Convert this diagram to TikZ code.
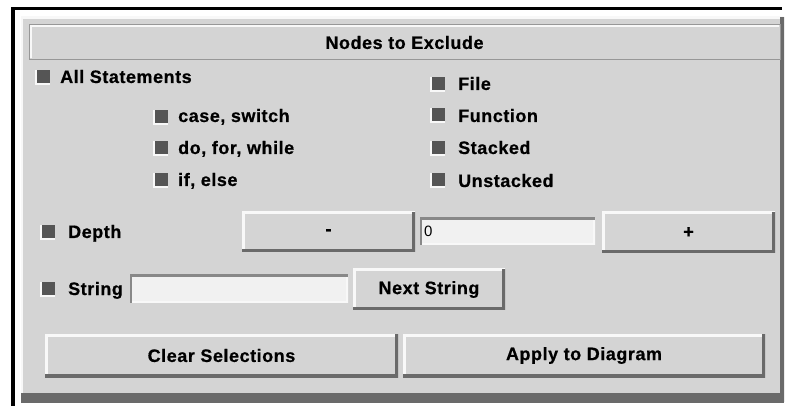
\documentclass[tikz,border=0pt]{standalone}
\usepackage{fontspec}
\setmainfont{Liberation Sans}[LetterSpace=3, BoldFeatures={FakeBold=0.6}]
\definecolor{panel}{HTML}{D4D4D4}
\definecolor{shade}{HTML}{6A6A6A}
\definecolor{lite}{HTML}{F8F8F8}
\definecolor{field}{HTML}{F1F1F1}
\definecolor{tick}{HTML}{555555}
\begin{document}
\begin{tikzpicture}[x=1pt,y=-1pt,
  ui/.style={font=\fontsize{18}{20}\selectfont\bfseries, text=black},
  box/.style={inner sep=0pt, outer sep=0pt, anchor=north west},
  edge/.style={fill=none, draw=#1},
  raised/.style={box, fill=panel, ui,
    path picture={
      \draw[edge=lite, line width=5pt] (path picture bounding box.south west) -- (path picture bounding box.north west) -- (path picture bounding box.north east);
      \draw[edge=shade, line width=6pt] (path picture bounding box.north east) -- (path picture bounding box.south east) -- (path picture bounding box.south west);
    }},
  sunken/.style={box, fill=field,
    path picture={
      \draw[edge=lite, line width=4pt] (path picture bounding box.north east) -- (path picture bounding box.south east) -- (path picture bounding box.south west);
      \draw[edge=shade!80, line width=4pt] (path picture bounding box.south west) -- (path picture bounding box.north west) -- (path picture bounding box.north east);
    }},
  toggle/.style={box, fill=tick, minimum size=15pt,
    path picture={
      \draw[edge=lite, line width=3pt] (path picture bounding box.north west) -- (path picture bounding box.south west) -- (path picture bounding box.south east);
    }},
  label/.style={ui, anchor=base west, inner sep=0pt}
]
\useasboundingbox (0,0) rectangle (785,406);

% outer frame
\draw[line width=3.5pt] (13,406) -- (13,8.7) -- (781.5,8.7);

% main panel with raised bevel
\node[box, fill=panel, minimum width=763pt, minimum height=385pt,
  path picture={
    \draw[edge=lite, line width=4pt] (path picture bounding box.south west) -- (path picture bounding box.north west) -- (path picture bounding box.north east);
    \draw[edge=shade, line width=9pt] (path picture bounding box.north east) -- (path picture bounding box.south east);
    \draw[edge=shade, line width=18pt] (path picture bounding box.south east) -- (path picture bounding box.south west);
  }] (panel) at (21,17) {};

% title bar
\node[box, fill=panel, draw=shade!70, line width=1pt, minimum width=751pt, minimum height=35pt,
  path picture={
    \draw[edge=lite, line width=2pt] ([xshift=1.5pt,yshift=1.5pt]path picture bounding box.south west) -- ([xshift=1.5pt,yshift=-1.5pt]path picture bounding box.north west) -- ([xshift=-1.5pt,yshift=-1.5pt]path picture bounding box.north east);
  }] (title) at (29,25) {};
\node[ui] (titletext) at (title.center) {Nodes to Exclude};

% statement toggles
\node[toggle] (tall) at (35,70) {};
\node[label] (lall) at (60,83) {All Statements};
\node[toggle] (tcase) at (153,110) {};
\node[label] (lcase) at (178,122) {case, switch};
\node[toggle] (tdo) at (153,141) {};
\node[label] (ldo) at (178,154) {do, for, while};
\node[toggle] (tif) at (153,173) {};
\node[label] (lif) at (178,186) {if, else};

% scope toggles
\node[toggle] (tfile) at (430,77) {};
\node[label] (lfile) at (458,90) {File};
\node[toggle] (tfunc) at (430,108) {};
\node[label] (lfunc) at (458,122) {Function};
\node[toggle] (tstack) at (430,141) {};
\node[label] (lstack) at (458,154) {Stacked};
\node[toggle] (tunst) at (430,173) {};
\node[label] (lunst) at (458,187) {Unstacked};

% depth row
\node[toggle] (tdepth) at (40,225) {};
\node[label] (ldepth) at (68,238) {Depth};
\node[raised, minimum width=173pt, minimum height=40pt] (minus) at (242,212) {-};
\node[sunken, minimum width=175pt, minimum height=27pt] (depthfield) at (420,218) {};
\node[anchor=west, inner sep=0pt, font=\fontsize{15}{17}\selectfont] (depthval) at ([xshift=4pt]depthfield.west) {0};
\node[raised, minimum width=173pt, minimum height=41pt] (plus) at (602,212) {+};

% string row
\node[toggle] (tstring) at (40,282) {};
\node[label] (lstring) at (68,295) {String};
\node[sunken, minimum width=218pt, minimum height=28pt] (stringfield) at (130,275) {};
\node[raised, minimum width=152pt, minimum height=41pt] (next) at (353,269) {Next String};

% action buttons
\node[raised, minimum width=353pt, minimum height=43pt] (clear) at (45,334) {Clear Selections};
\node[raised, minimum width=362pt, minimum height=43pt] (apply) at (403,334) {Apply to Diagram};
\end{tikzpicture}
\end{document}
